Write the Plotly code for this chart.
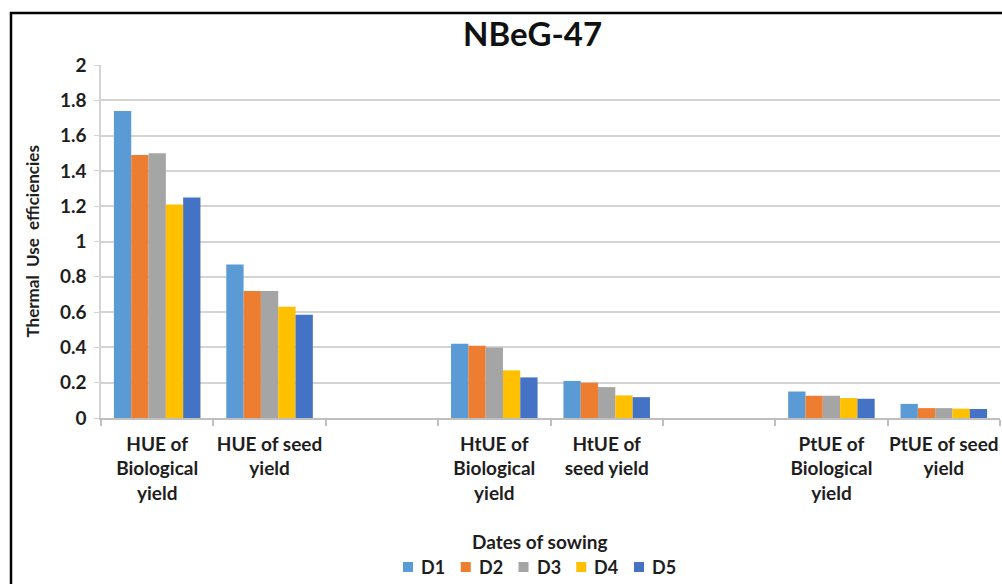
import plotly.graph_objects as go

# Efficiency indices (blank slots separate the HUE / HtUE / PtUE groups)
categories = [
    "HUE of<br>Biological<br>yield",
    "HUE of seed<br>yield",
    " ",
    "HtUE of<br>Biological<br>yield",
    "HtUE of<br>seed yield",
    "  ",
    "PtUE of<br>Biological<br>yield",
    "PtUE of seed<br>yield",
]

series_names = ["D1", "D2", "D3", "D4", "D5"]

d1 = [1.74, 0.87, None, 0.42, 0.21, None, 0.15, 0.08]
d2 = [1.49, 0.72, None, 0.41, 0.20, None, 0.126, 0.056]
d3 = [1.50, 0.72, None, 0.40, 0.175, None, 0.126, 0.056]
d4 = [1.21, 0.63, None, 0.27, 0.128, None, 0.113, 0.053]
d5 = [1.25, 0.585, None, 0.23, 0.118, None, 0.109, 0.051]

y_ticks = [0, 0.2, 0.4, 0.6, 0.8, 1, 1.2, 1.4, 1.6, 1.8, 2]
y_tick_text = ["0", "0.2", "0.4", "0.6", "0.8", "1", "1.2", "1.4", "1.6", "1.8", "2"]

colors = ["#5B9BD5", "#ED7D31", "#A5A5A5", "#FFC000", "#4472C4"]

W, H = 1002, 584
L, R, T, B = 101, 2, 65, 166
plot_w = W - L - R
plot_h = H - T - B


def px_x(px):
    return (px - L) / plot_w


def px_y(py):
    return (H - B - py) / plot_h


FONT = "Lato, 'Open Sans', sans-serif"
TXT = "#1E1E1E"

fig = go.Figure()
for name, vals, col in zip(series_names, [d1, d2, d3, d4, d5], colors):
    fig.add_trace(go.Bar(
        x=categories, y=vals, name=name,
        marker=dict(color=col, line=dict(width=0)),
        showlegend=False,
    ))

annotations = [
    dict(text="<b>NBeG-47</b>", x=px_x(532), y=px_y(33),
         font=dict(family=FONT, size=33, color="#111111")),
    dict(text="<b>Thermal  Use  efficiencies</b>", x=px_x(32), y=0.5,
         textangle=-90, font=dict(family=FONT, size=17, color=TXT)),
    dict(text="<b>Dates of sowing</b>", x=px_x(540), y=px_y(541),
         font=dict(family=FONT, size=19, color=TXT)),
]

# Horizontal key under the axis title: square swatch + bold label per series
shapes = []
key_left, key_step, key_y, sw = 403, 57.75, 567, 10
for i, (name, col) in enumerate(zip(series_names, colors)):
    x0 = key_left + i * key_step
    shapes.append(dict(type="rect", xref="paper", yref="paper",
                       x0=px_x(x0), x1=px_x(x0 + sw),
                       y0=px_y(key_y + sw / 2), y1=px_y(key_y - sw / 2),
                       line=dict(width=0), fillcolor=col))
    annotations.append(dict(text=f"<b>{name}</b>", x=px_x(x0 + sw + 6),
                            y=px_y(key_y), xanchor="left",
                            font=dict(family=FONT, size=18, color=TXT)))

for a in annotations:
    a.setdefault("xanchor", "center")
    a.update(xref="paper", yref="paper", yanchor="middle", showarrow=False)

# Outer chart frame
shapes.append(dict(type="rect", xref="paper", yref="paper",
                   x0=px_x(11), x1=px_x(1040), y0=px_y(640), y1=px_y(13),
                   line=dict(color="black", width=2.5), fillcolor="rgba(0,0,0,0)",
                   layer="above"))

fig.update_layout(
    width=W, height=H,
    margin=dict(l=L, r=R, t=T, b=B, pad=0, autoexpand=False),
    paper_bgcolor="white", plot_bgcolor="white",
    barmode="group", bargap=0.23, bargroupgap=0,
    font=dict(family=FONT, size=17, color=TXT),
    showlegend=False,
    xaxis=dict(
        type="category", categoryorder="array", categoryarray=categories,
        showgrid=False, showline=True, linecolor="#BFBFBF", linewidth=1.5,
        ticks="outside", tickson="boundaries", ticklen=6, tickcolor="#BFBFBF",
        tickwidth=1.5, ticklabelstandoff=8, tickangle=0, automargin=False,
        tickfont=dict(family=FONT, size=19, color=TXT, weight="bold"),
        fixedrange=True,
    ),
    yaxis=dict(
        range=[0, 2], tickvals=y_ticks, ticktext=y_tick_text,
        showgrid=True, gridcolor="#D4D4D4", gridwidth=2,
        showline=True, linecolor="#D4D4D4", linewidth=1.5,
        ticks="outside", ticklen=5, tickcolor="#D4D4D4",
        ticklabelstandoff=4, automargin=False,
        tickfont=dict(family=FONT, size=19, color=TXT, weight="bold"),
        zeroline=False, fixedrange=True,
    ),
    annotations=annotations,
    shapes=shapes,
)

fig.write_html("out.html")
